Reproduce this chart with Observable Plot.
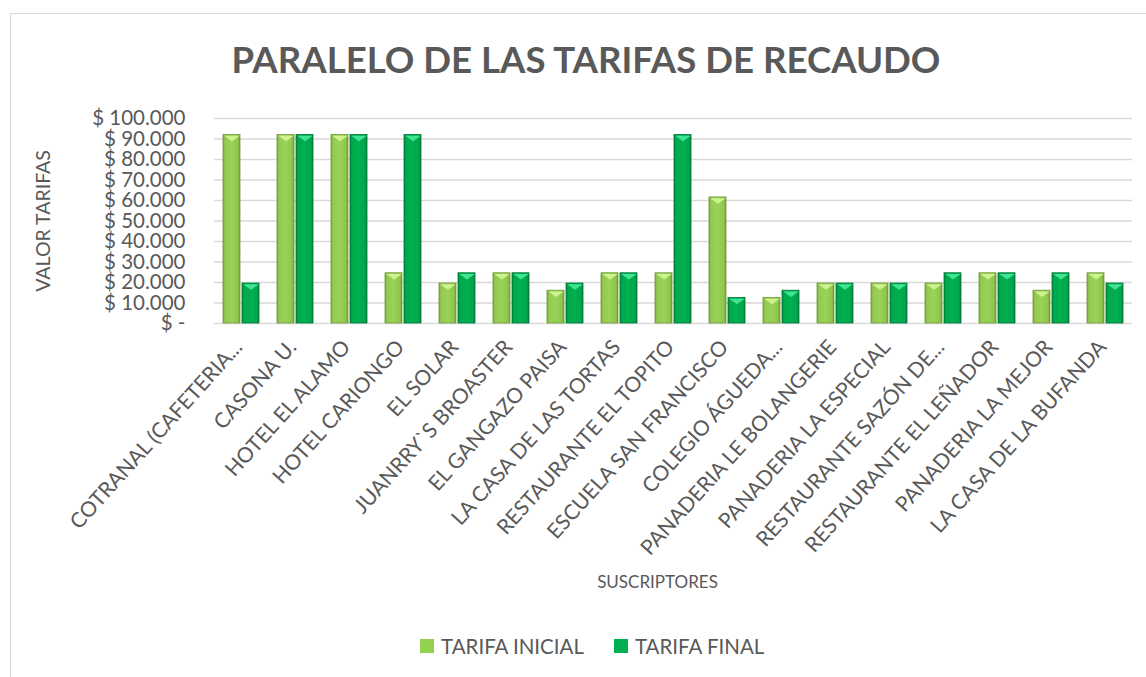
<!DOCTYPE html>
<html>
<head>
<meta charset="utf-8">
<script src="https://cdn.jsdelivr.net/npm/d3@7"></script>
<script src="https://cdn.jsdelivr.net/npm/@observablehq/plot@0.6"></script>
<style>
  body { margin: 0; background: #fff; font-family: Lato, "Open Sans", sans-serif; }
  #wrap { position: relative; width: 1146px; height: 677px; overflow: hidden; background: #fff; }
  #border { position: absolute; left: 10px; top: 13px; width: 1200px; height: 700px;
            border-top: 1.5px solid #d9d9d9; border-left: 1.5px solid #d9d9d9; }
  #title { position: absolute; top: 41px; left: 586px; transform: translateX(-50%);
           white-space: nowrap; font: bold 36.6px Lato, sans-serif; line-height: 36px; color: #595959; }
  #chart { position: absolute; left: 0; top: 100px; }
  #legend { position: absolute; left: 420px; top: 629px; }
  g[aria-label="y-axis tick label"] { font-size: 20.5px; }
  g[aria-label="fx-axis tick label"] { font-size: 21px; }
  g[aria-label="y-axis label"] { font-size: 19.5px; }
  g[aria-label="fx-axis label"] { font-size: 17px; }
</style>
</head>
<body>
<div id="wrap">
  <div id="border"></div>
  <div id="title">PARALELO DE LAS TARIFAS DE RECAUDO</div>
  <div id="chart"></div>
  <div id="legend"></div>
</div>
<script>
// ---- data ----
const categories = [
  "COTRANAL (CAFETERIA...", "CASONA U.", "HOTEL EL ALAMO", "HOTEL CARIONGO", "EL SOLAR",
  "JUANRRY`S BROASTER", "EL GANGAZO PAISA", "LA CASA DE LAS TORTAS", "RESTAURANTE EL TOPITO",
  "ESCUELA SAN FRANCISCO", "COLEGIO ÁGUEDA...", "PANADERIA LE BOLANGERIE", "PANADERIA LA ESPECIAL",
  "RESTAURANTE SAZÓN DE...", "RESTAURANTE EL LEÑADOR", "PANADERIA LA MEJOR", "LA CASA DE LA BUFANDA"
];
const series = ["TARIFA INICIAL", "TARIFA FINAL"];
const tarifaInicial = [92000, 92000, 92000, 24500, 19500, 24500, 16000, 24500, 24500, 61500, 12500, 19500, 19500, 19500, 24500, 16000, 24500];
const tarifaFinal   = [19500, 92000, 92000, 92000, 24500, 24500, 19500, 24500, 92000, 12500, 16000, 19500, 19500, 24500, 24500, 24500, 19500];
const yTicks = [0, 10000, 20000, 30000, 40000, 50000, 60000, 70000, 80000, 90000, 100000];

const dataInit = categories.map((c, i) => ({category: c, series: series[0], value: tarifaInicial[i]}));
const dataFinal = categories.map((c, i) => ({category: c, series: series[1], value: tarifaFinal[i]}));

const fmt = d => d === 0 ? "$ -" : "$ " + d3.format(",")(d).replace(/,/g, ".");

const cap = (w, h) => ({ draw(ctx) { ctx.moveTo(-w, 0); ctx.lineTo(w, 0); ctx.lineTo(0, h); ctx.closePath(); } });

const svg = Plot.plot({
  width: 1146,
  height: 520,
  marginTop: 18,
  marginBottom: 297,
  marginLeft: 212,
  marginRight: 13,
  style: { fontFamily: "Lato, sans-serif", fontSize: "17px", color: "#595959", background: "transparent" },
  fx: { domain: categories, padding: 0 },
  x: { domain: series, axis: null, paddingInner: 0.1, paddingOuter: 0.44 },
  y: { domain: [0, 100000], ticks: yTicks, tickFormat: fmt, tickSize: 0, tickPadding: 29,
       label: "VALOR TARIFAS", labelAnchor: "center", labelOffset: 178, labelArrow: "none" },
  marks: [
    Plot.gridY(yTicks, { stroke: "#d9d9d9", strokeOpacity: 1, strokeWidth: 1.6 }),
    Plot.axisFx({ anchor: "bottom", tickRotate: -48, tickSize: 0, tickPadding: 20, dx: -3,
                  label: "SUSCRIPTORES", labelAnchor: "center", labelOffset: 264, labelArrow: "none" }),
    Plot.barY(dataInit, { fx: "category", x: "series", y: "value", fill: "url(#gInit)", stroke: "#6f9a3a", strokeWidth: 0.8 }),
    Plot.barY(dataFinal, { fx: "category", x: "series", y: "value", fill: "url(#gFinal)", stroke: "#00773a", strokeWidth: 0.8 }),
    Plot.dot(dataInit, { fx: "category", x: "series", y: "value", symbol: cap(7.8, 5.5), r: 5, fill: "#cdf28e", stroke: "none", dy: 0.8 }),
    Plot.dot(dataFinal, { fx: "category", x: "series", y: "value", symbol: cap(7.8, 5.5), r: 5, fill: "#3fe391", stroke: "none", dy: 0.8 })
  ]
});

const defs = d3.select(svg).insert("defs", ":first-child");
function grad(id, stops) {
  const g = defs.append("linearGradient").attr("id", id).attr("x1", "0").attr("x2", "1").attr("y1", "0").attr("y2", "0");
  stops.forEach(([o, c]) => g.append("stop").attr("offset", o).attr("stop-color", c));
}
grad("gInit", [["0", "#78a63e"], ["0.12", "#93cb52"], ["0.5", "#9bd35a"], ["0.88", "#8fc64e"], ["1", "#6f9b38"]]);
grad("gFinal", [["0", "#00883f"], ["0.12", "#00a84c"], ["0.5", "#00b050"], ["0.88", "#00a64b"], ["1", "#007e3b"]]);

// nudge the x-axis title slightly left, as in the reference
svg.querySelectorAll('g[aria-label="fx-axis label"]').forEach(g => {
  g.setAttribute("transform", ((g.getAttribute("transform") || "") + " translate(-16,0)").trim());
});

document.getElementById("chart").appendChild(svg);

const leg = Plot.legend({
  color: { type: "ordinal", domain: series, range: ["#92d050", "#00b050"] },
  swatchSize: 14,
  style: { fontFamily: "Lato, sans-serif", fontSize: "20.5px", color: "#595959" }
});
leg.querySelectorAll("span").forEach(s => { s.style.marginRight = "30px"; });
leg.querySelectorAll("span > svg").forEach(s => { s.style.marginRight = "7px"; });
document.getElementById("legend").appendChild(leg);
</script>
</body>
</html>
